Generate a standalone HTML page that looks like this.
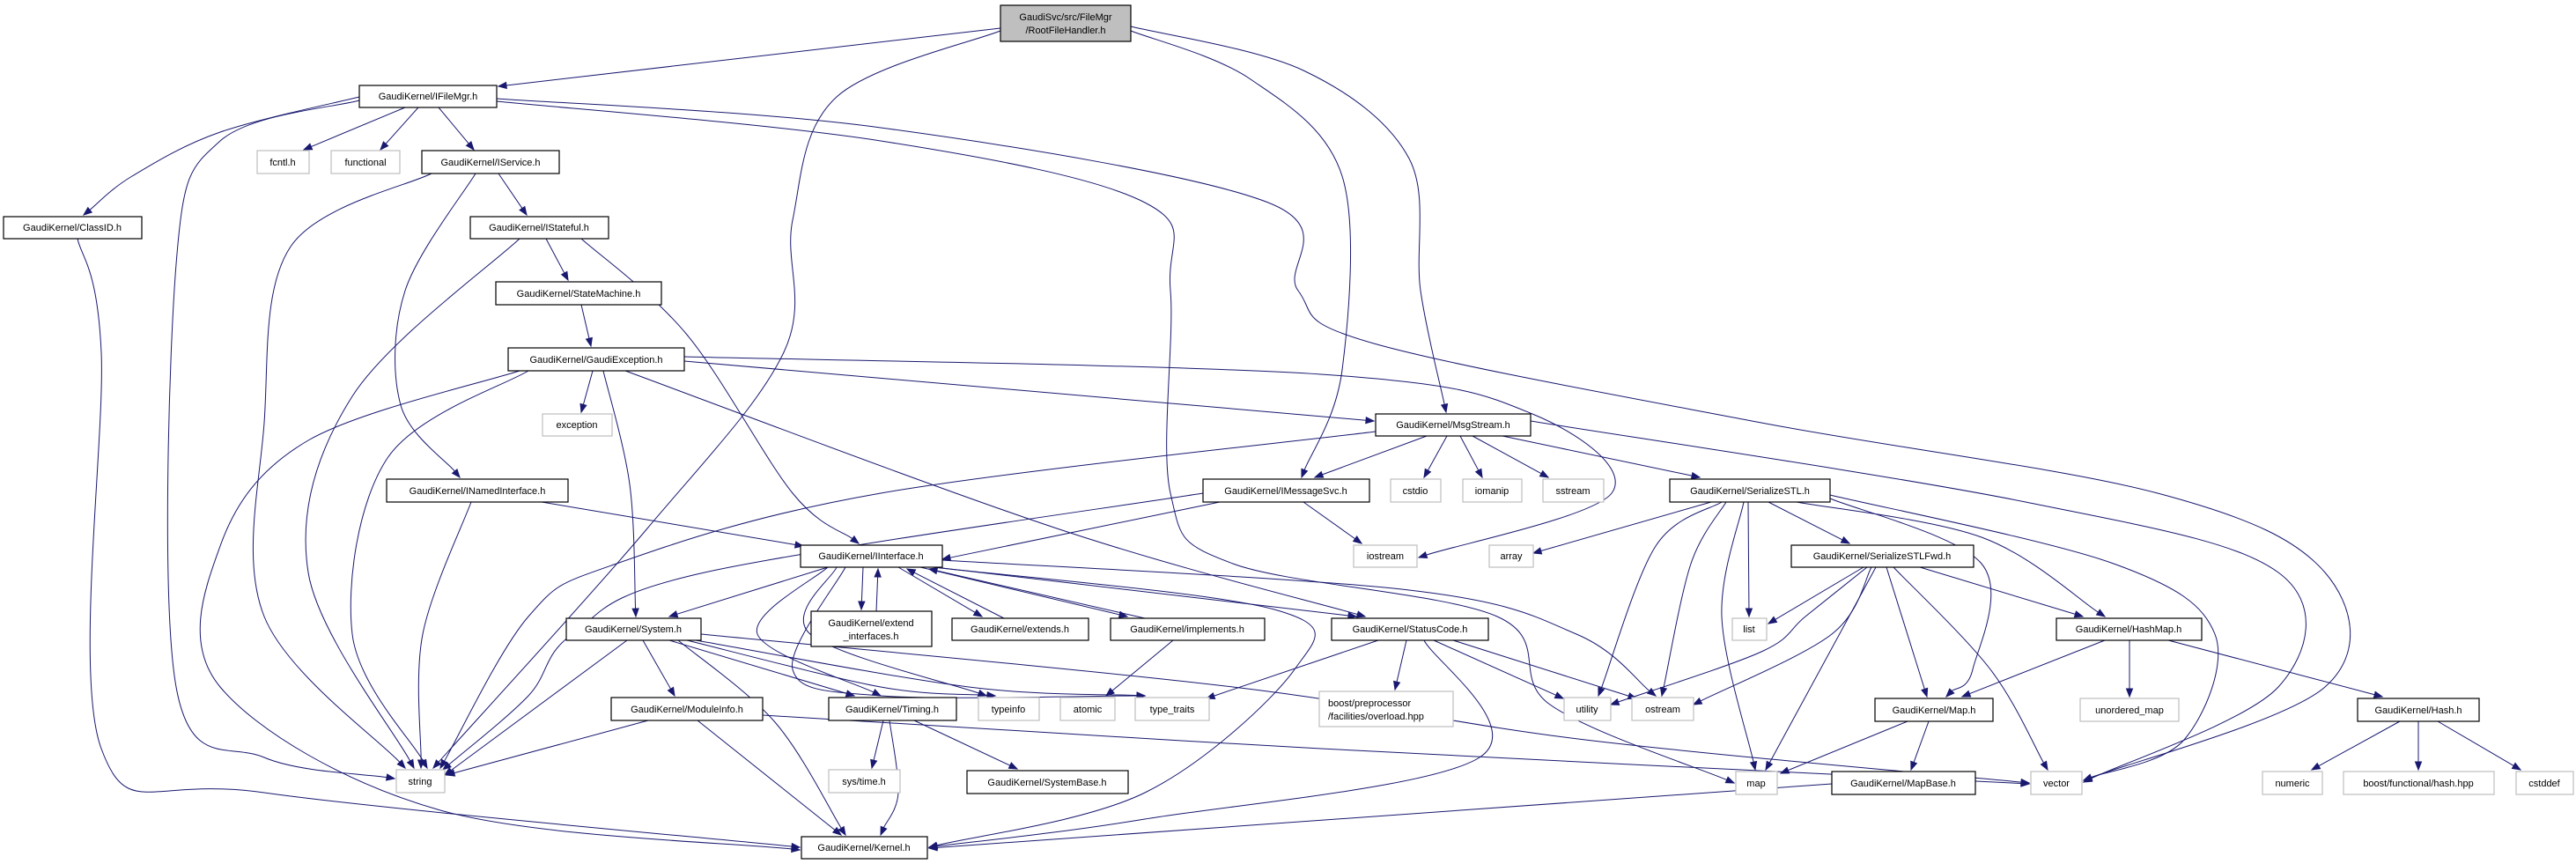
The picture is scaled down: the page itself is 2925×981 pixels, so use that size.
<!DOCTYPE html>
<html><head><meta charset="utf-8"><style>
html,body{margin:0;padding:0;background:#fff;}
svg{display:block;}
text{font-family:"Liberation Sans",sans-serif;font-size:11px;fill:#000;}
.k rect{fill:#fff;stroke:#000;stroke-width:1.2;}
.g rect{fill:#fff;stroke:#bfbfbf;stroke-width:1.2;}
.r rect{fill:#bfbfbf;stroke:#000;stroke-width:1.2;}
</style></head><body>
<svg id="s" width="2925" height="981" viewBox="0 0 2925 981" xmlns="http://www.w3.org/2000/svg">
<g id="edges" fill="none" stroke="#191970" stroke-width="1"></g>
<g id="arrows" fill="#191970" stroke="#191970"></g>
<g id="nodes">
<g class="r"><rect x="1136" y="6" width="148" height="41"/><text x="1210" y="23" text-anchor="middle">GaudiSvc/src/FileMgr</text><text x="1210" y="38" text-anchor="middle">/RootFileHandler.h</text></g>
<g class="k"><rect x="408" y="97" width="156" height="25"/><text x="486" y="113" text-anchor="middle">GaudiKernel/IFileMgr.h</text></g>
<g class="g"><rect x="292" y="171" width="59" height="26"/><text x="321" y="188" text-anchor="middle">fcntl.h</text></g>
<g class="g"><rect x="376" y="171" width="78" height="26"/><text x="415" y="188" text-anchor="middle">functional</text></g>
<g class="k"><rect x="479" y="171" width="156" height="26"/><text x="557" y="188" text-anchor="middle">GaudiKernel/IService.h</text></g>
<g class="k"><rect x="4" y="246" width="157" height="25"/><text x="82" y="262" text-anchor="middle">GaudiKernel/ClassID.h</text></g>
<g class="k"><rect x="534" y="246" width="157" height="25"/><text x="612" y="262" text-anchor="middle">GaudiKernel/IStateful.h</text></g>
<g class="k"><rect x="563" y="320" width="188" height="26"/><text x="657" y="337" text-anchor="middle">GaudiKernel/StateMachine.h</text></g>
<g class="k"><rect x="577" y="395" width="200" height="26"/><text x="677" y="412" text-anchor="middle">GaudiKernel/GaudiException.h</text></g>
<g class="g"><rect x="616" y="470" width="79" height="25"/><text x="655" y="486" text-anchor="middle">exception</text></g>
<g class="k"><rect x="1562" y="470" width="176" height="25"/><text x="1650" y="486" text-anchor="middle">GaudiKernel/MsgStream.h</text></g>
<g class="k"><rect x="439" y="544" width="206" height="26"/><text x="542" y="561" text-anchor="middle">GaudiKernel/INamedInterface.h</text></g>
<g class="k"><rect x="1366" y="544" width="189" height="26"/><text x="1460" y="561" text-anchor="middle">GaudiKernel/IMessageSvc.h</text></g>
<g class="g"><rect x="1579" y="544" width="57" height="26"/><text x="1607" y="561" text-anchor="middle">cstdio</text></g>
<g class="g"><rect x="1661" y="544" width="67" height="26"/><text x="1694" y="561" text-anchor="middle">iomanip</text></g>
<g class="g"><rect x="1752" y="544" width="69" height="26"/><text x="1786" y="561" text-anchor="middle">sstream</text></g>
<g class="k"><rect x="1896" y="544" width="182" height="26"/><text x="1987" y="561" text-anchor="middle">GaudiKernel/SerializeSTL.h</text></g>
<g class="k"><rect x="909" y="619" width="161" height="25"/><text x="989" y="635" text-anchor="middle">GaudiKernel/IInterface.h</text></g>
<g class="g"><rect x="1537" y="619" width="72" height="25"/><text x="1573" y="635" text-anchor="middle">iostream</text></g>
<g class="g"><rect x="1691" y="619" width="50" height="25"/><text x="1716" y="635" text-anchor="middle">array</text></g>
<g class="k"><rect x="2034" y="619" width="207" height="25"/><text x="2137" y="635" text-anchor="middle">GaudiKernel/SerializeSTLFwd.h</text></g>
<g class="k"><rect x="921" y="694" width="137" height="40"/><text x="989" y="711" text-anchor="middle">GaudiKernel/extend</text><text x="989" y="726" text-anchor="middle">_interfaces.h</text></g>
<g class="k"><rect x="643" y="702" width="153" height="25"/><text x="719" y="718" text-anchor="middle">GaudiKernel/System.h</text></g>
<g class="k"><rect x="1081" y="702" width="155" height="25"/><text x="1158" y="718" text-anchor="middle">GaudiKernel/extends.h</text></g>
<g class="k"><rect x="1261" y="702" width="175" height="25"/><text x="1348" y="718" text-anchor="middle">GaudiKernel/implements.h</text></g>
<g class="k"><rect x="1512" y="702" width="178" height="25"/><text x="1601" y="718" text-anchor="middle">GaudiKernel/StatusCode.h</text></g>
<g class="g"><rect x="1967" y="702" width="39" height="25"/><text x="1986" y="718" text-anchor="middle">list</text></g>
<g class="k"><rect x="2335" y="702" width="165" height="25"/><text x="2417" y="718" text-anchor="middle">GaudiKernel/HashMap.h</text></g>
<g class="k"><rect x="694" y="792" width="172" height="26"/><text x="780" y="809" text-anchor="middle">GaudiKernel/ModuleInfo.h</text></g>
<g class="k"><rect x="941" y="792" width="145" height="26"/><text x="1013" y="809" text-anchor="middle">GaudiKernel/Timing.h</text></g>
<g class="g"><rect x="1111" y="792" width="69" height="26"/><text x="1145" y="809" text-anchor="middle">typeinfo</text></g>
<g class="g"><rect x="1204" y="792" width="62" height="26"/><text x="1235" y="809" text-anchor="middle">atomic</text></g>
<g class="g"><rect x="1289" y="792" width="84" height="26"/><text x="1331" y="809" text-anchor="middle">type_traits</text></g>
<g class="g"><rect x="1498" y="785" width="152" height="40"/><text x="1508" y="802">boost/preprocessor</text><text x="1508" y="817">/facilities/overload.hpp</text></g>
<g class="g"><rect x="1776" y="792" width="53" height="26"/><text x="1802" y="809" text-anchor="middle">utility</text></g>
<g class="g"><rect x="1853" y="792" width="70" height="26"/><text x="1888" y="809" text-anchor="middle">ostream</text></g>
<g class="k"><rect x="2129" y="793" width="134" height="26"/><text x="2196" y="810" text-anchor="middle">GaudiKernel/Map.h</text></g>
<g class="g"><rect x="2362" y="793" width="112" height="26"/><text x="2418" y="810" text-anchor="middle">unordered_map</text></g>
<g class="k"><rect x="2677" y="793" width="138" height="26"/><text x="2746" y="810" text-anchor="middle">GaudiKernel/Hash.h</text></g>
<g class="g"><rect x="450" y="874" width="55" height="26"/><text x="477" y="891" text-anchor="middle">string</text></g>
<g class="g"><rect x="941" y="874" width="81" height="26"/><text x="981" y="891" text-anchor="middle">sys/time.h</text></g>
<g class="k"><rect x="1098" y="875" width="183" height="26"/><text x="1189" y="892" text-anchor="middle">GaudiKernel/SystemBase.h</text></g>
<g class="g"><rect x="1971" y="876" width="47" height="26"/><text x="1994" y="893" text-anchor="middle">map</text></g>
<g class="k"><rect x="2080" y="876" width="163" height="26"/><text x="2161" y="893" text-anchor="middle">GaudiKernel/MapBase.h</text></g>
<g class="g"><rect x="2306" y="876" width="58" height="26"/><text x="2335" y="893" text-anchor="middle">vector</text></g>
<g class="g"><rect x="2569" y="876" width="68" height="26"/><text x="2603" y="893" text-anchor="middle">numeric</text></g>
<g class="g"><rect x="2661" y="876" width="171" height="26"/><text x="2746" y="893" text-anchor="middle">boost/functional/hash.hpp</text></g>
<g class="g"><rect x="2857" y="876" width="65" height="26"/><text x="2889" y="893" text-anchor="middle">cstddef</text></g>
<g class="k"><rect x="910" y="950" width="143" height="25"/><text x="981" y="966" text-anchor="middle">GaudiKernel/Kernel.h</text></g>
</g>
</svg>
<script>
var N={root:[1136,6,1284,47],ifm:[408,97,564,122],fcntl:[292,171,351,197],functional:[376,171,454,197],isvc:[479,171,635,197],classid:[4,246,161,271],istate:[534,246,691,271],sm:[563,320,751,346],gex:[577,395,777,421],exc:[616,470,695,495],msg:[1562,470,1738,495],inamed:[439,544,645,570],imsg:[1366,544,1555,570],cstdio:[1579,544,1636,570],iomanip:[1661,544,1728,570],sstream:[1752,544,1821,570],ser:[1896,544,2078,570],iint:[909,619,1070,644],iostream:[1537,619,1609,644],array:[1691,619,1741,644],serf:[2034,619,2241,644],extif:[921,694,1058,734],system:[643,702,796,727],extends:[1081,702,1236,727],impl:[1261,702,1436,727],sc:[1512,702,1690,727],list:[1967,702,2006,727],hashmap:[2335,702,2500,727],modinfo:[694,792,866,818],timing:[941,792,1086,818],typeinfo:[1111,792,1180,818],atomic:[1204,792,1266,818],tt:[1289,792,1373,818],boostpp:[1498,785,1650,825],utility:[1776,792,1829,818],ostream:[1853,792,1923,818],maph:[2129,793,2263,819],umap:[2362,793,2474,819],hash:[2677,793,2815,819],string:[450,874,505,900],systime:[941,874,1022,900],sysbase:[1098,875,1281,901],map:[1971,876,2018,902],mapbase:[2080,876,2243,902],vector:[2306,876,2364,902],numeric:[2569,876,2637,902],bfh:[2661,876,2832,902],cstddef:[2857,876,2922,902],kernel:[910,950,1053,975]};
var E=[
['root','ifm',[[1136,32],[566,98]]],
['root','string',[[1136,35],[950,110],[900,250],[890,400],[735,600],[492,872]]],
['root','imsg',[[1284,35],[1420,90],[1524,200],[1524,420],[1478,542]]],
['root','msg',[[1284,30],[1480,80],[1600,180],[1613,330],[1642,468]]],
['ifm','classid',[[408,110],[250,150],[150,200],[95,244]]],
['ifm','string',[[408,114],[250,160],[200,300],[200,780],[300,860],[448,884]]],
['ifm','fcntl',[[460,122],[345,170]]],
['ifm','functional',[[475,122],[432,170]]],
['ifm','isvc',[[498,122],[538,170]]],
['ifm','map',[[564,115],[1000,160],[1300,230],[1329,330],[1329,560],[1400,640],[1700,700],[1760,800],[1969,889]]],
['ifm','vector',[[564,112],[1000,145],[1440,230],[1474,330],[1560,390],[2000,480],[2450,560],[2640,650],[2640,780],[2366,886]]],
['isvc','string',[[490,197],[330,280],[300,480],[300,700],[460,872]]],
['isvc','inamed',[[540,197],[460,330],[455,460],[522,542]]],
['isvc','istate',[[566,197],[598,244]]],
['istate','string',[[590,271],[400,450],[350,650],[470,872]]],
['istate','sm',[[620,271],[645,318]]],
['istate','iint',[[660,271],[780,380],[900,560],[975,617]]],
['sm','gex',[[660,346],[671,393]]],
['gex','kernel',[[590,421],[350,500],[250,620],[250,780],[500,920],[908,965]]],
['gex','string',[[600,421],[440,520],[400,720],[485,872]]],
['gex','exc',[[673,421],[660,468]]],
['gex','system',[[685,421],[715,550],[722,700]]],
['gex','sc',[[710,421],[1200,600],[1550,700]]],
['gex','msg',[[777,410],[1560,478]]],
['gex','iostream',[[777,405],[1500,425],[1740,470],[1830,560],[1611,633]]],
['classid','kernel',[[88,271],[115,400],[115,850],[300,900],[908,962]]],
['inamed','string',[[535,570],[480,720],[478,872]]],
['inamed','iint',[[615,570],[912,620]]],
['msg','imsg',[[1620,495],[1493,542]]],
['msg','cstdio',[[1643,495],[1617,542]]],
['msg','iomanip',[[1658,495],[1683,542]]],
['msg','sstream',[[1672,495],[1758,542]]],
['msg','ser',[[1706,495],[1930,542]]],
['msg','string',[[1562,490],[1000,560],[700,640],[600,700],[500,872]]],
['msg','vector',[[1738,478],[2300,570],[2587,650],[2587,780],[2366,888]]],
['imsg','string',[[1366,560],[800,650],[650,720],[600,790],[503,874]]],
['imsg','iint',[[1385,570],[1070,635]]],
['imsg','iostream',[[1480,570],[1546,617]]],
['iint','extif',[[980,644],[978,692]]],
['extif','iint',[[995,694],[997,646]]],
['extends','iint',[[1140,702],[1030,646]]],
['iint','extends',[[1020,644],[1115,700]]],
['impl','iint',[[1300,702],[1055,646]]],
['iint','impl',[[1045,644],[1280,700]]],
['iint','system',[[940,644],[760,700]]],
['iint','timing',[[940,644],[860,720],[1000,790]]],
['iint','typeinfo',[[950,644],[920,720],[1120,790]]],
['iint','tt',[[960,644],[900,760],[1000,790],[1300,790]]],
['iint','kernel',[[1060,644],[1447,692],[1470,760],[1300,900],[1055,962]]],
['iint','sc',[[1070,645],[1540,700]]],
['iint','ostream',[[1070,636],[1600,670],[1790,720],[1880,790]]],
['impl','atomic',[[1332,727],[1256,790]]],
['system','string',[[712,727],[505,880]]],
['system','modinfo',[[730,727],[766,790]]],
['system','timing',[[760,727],[970,790]]],
['system','typeinfo',[[780,727],[1000,780],[1130,790]]],
['system','tt',[[790,727],[1100,780],[1300,790]]],
['system','kernel',[[770,727],[880,820],[960,948]]],
['system','vector',[[796,720],[1400,780],[1800,840],[2304,889]]],
['modinfo','string',[[736,818],[507,880]]],
['modinfo','kernel',[[792,818],[955,948]]],
['modinfo','vector',[[866,812],[1500,850],[2304,890]]],
['timing','systime',[[1003,818],[990,872]]],
['timing','sysbase',[[1038,818],[1155,873]]],
['timing','kernel',[[1010,818],[1020,900],[1000,948]]],
['sc','tt',[[1565,727],[1370,793]]],
['sc','boostpp',[[1597,727],[1584,783]]],
['sc','utility',[[1628,727],[1775,793]]],
['sc','ostream',[[1650,727],[1858,793]]],
['sc','kernel',[[1617,727],[1680,860],[1300,930],[1055,962]]],
['ser','array',[[1943,570],[1741,628]]],
['ser','utility',[[1955,570],[1880,620],[1815,790]]],
['ser','ostream',[[1960,570],[1920,640],[1887,790]]],
['ser','list',[[1985,570],[1986,700]]],
['ser','map',[[1980,570],[1955,700],[1993,874]]],
['ser','serf',[[2008,570],[2100,617]]],
['ser','hashmap',[[2040,570],[2250,610],[2390,700]]],
['ser','maph',[[2078,566],[2250,640],[2240,760],[2210,791]]],
['ser','vector',[[2078,562],[2400,640],[2515,720],[2480,840],[2366,886]]],
['serf','list',[[2116,644],[2008,708]]],
['serf','utility',[[2120,644],[2050,700],[2000,740],[1829,800]]],
['serf','ostream',[[2125,644],[2080,720],[1923,800]]],
['serf','map',[[2130,644],[2005,874]]],
['serf','maph',[[2142,644],[2188,791]]],
['serf','vector',[[2150,644],[2260,760],[2325,874]]],
['serf','hashmap',[[2180,644],[2365,700]]],
['hashmap','maph',[[2390,727],[2228,791]]],
['hashmap','umap',[[2418,727],[2418,791]]],
['hashmap','hash',[[2462,727],[2705,791]]],
['maph','map',[[2166,819],[2022,878]]],
['maph','mapbase',[[2190,819],[2170,874]]],
['mapbase','kernel',[[2080,890],[1055,963]]],
['hash','numeric',[[2725,819],[2625,874]]],
['hash','bfh',[[2746,819],[2746,874]]],
['hash','cstddef',[[2768,819],[2862,874]]]
];
function cr(p){var d='M'+p[0][0]+','+p[0][1];if(p.length==2){return d+' L'+p[1][0]+','+p[1][1];}
for(var i=0;i<p.length-1;i++){var p0=p[i-1]||p[i],p1=p[i],p2=p[i+1],p3=p[i+2]||p2;
d+=' C'+(p1[0]+(p2[0]-p0[0])/6)+','+(p1[1]+(p2[1]-p0[1])/6)+' '+(p2[0]-(p3[0]-p1[0])/6)+','+(p2[1]-(p3[1]-p1[1])/6)+' '+p2[0]+','+p2[1];}return d;}
var eg=document.getElementById('edges'),ag=document.getElementById('arrows'),ns='http://www.w3.org/2000/svg';
E.forEach(function(e){var p=e[2].slice();var L=p[p.length-1],P=p[p.length-2];
var dx=L[0]-P[0],dy=L[1]-P[1],l=Math.hypot(dx,dy);
var q=[L[0]-dx/l*9,L[1]-dy/l*9];p[p.length-1]=q;
var pa=document.createElementNS(ns,'path');pa.setAttribute('d',cr(p));eg.appendChild(pa);
var ux=dx/l,uy=dy/l,px=q[0],py=q[1];
var pg=document.createElementNS(ns,'polygon');
pg.setAttribute('points',L[0]+','+L[1]+' '+(px-uy*3.5)+','+(py+ux*3.5)+' '+(px+uy*3.5)+','+(py-ux*3.5));ag.appendChild(pg);});
document.querySelectorAll('#nodes text').forEach(function(t){var r=t.parentNode.querySelector('rect');var w=+r.getAttribute('width');
var bw=t.getBBox().width;if(bw>w-12){t.setAttribute('textLength',w-12);t.setAttribute('lengthAdjust','spacingAndGlyphs');}});
</script>
</body></html>
